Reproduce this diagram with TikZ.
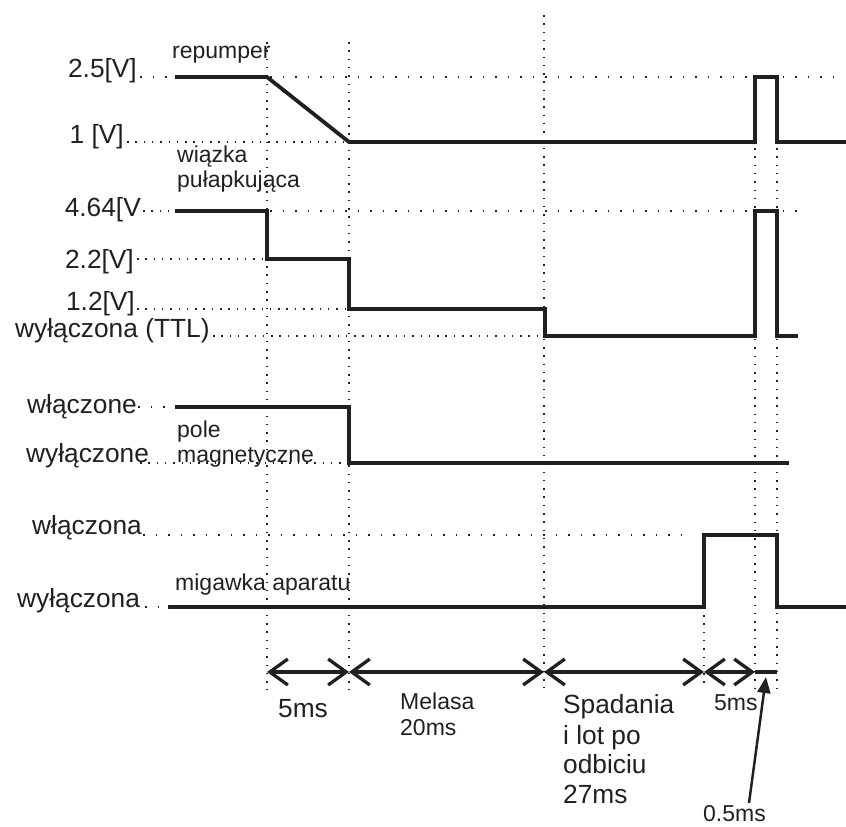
\documentclass[tikz,border=0pt]{standalone}
\usepackage{fontspec}
\setmainfont{Liberation Sans}
\usetikzlibrary{arrows.meta}
\definecolor{ink}{HTML}{231F20}
\tikzset{
  sig/.style={line width=3.8pt, color=ink, line join=miter},
  dotS/.style={line width=1.5pt, color=ink, dash pattern=on 1.5pt off 6.8pt},
  dotW/.style={line width=1.5pt, color=ink, dash pattern=on 1.5pt off 11pt},
  dimline/.style={line width=3.3pt, color=ink},
  barbs/.style={{Straight Barb[length=18pt,width=26pt]}-{Straight Barb[length=18pt,width=26pt]}},
  big/.style={font=\fontsize{26.3}{30}\selectfont, text=ink, inner sep=0pt},
  small/.style={font=\fontsize{23}{26}\selectfont, text=ink, inner sep=0pt},
}
\begin{document}
\begin{tikzpicture}[x=1pt,y=-1pt]
\useasboundingbox (0,0) rectangle (846,827);
% vertical dotted guides
\draw[dotS] (267,42) -- (267,690);
\draw[dotS] (349,42) -- (349,690);
\draw[dotS] (544,15) -- (544,688);
\draw[dotS] (755,148) -- (755,690);
\draw[dotS] (777,148) -- (777,690);
\draw[dotS] (704,615) -- (704,685);
% horizontal dotted guides
\draw[dotW] (140,77) -- (175,77);
\draw[dotW] (270,77) -- (838,77);
\draw[dotS] (127,142) -- (349,142);
\draw[dotS] (143,211) -- (175,211);
\draw[dotW] (270,211) -- (798,211);
\draw[dotS] (137,259) -- (267,259);
\draw[dotS] (137,309) -- (349,309);
\draw[dotS] (213,336) -- (583,336);
\draw[dotW] (138,407) -- (175,407);
\draw[dotS] (140,463) -- (349,463);
\draw[dotW] (143,535) -- (692,535);
\draw[dotW] (145,607) -- (168,607);
% signals
\draw[sig] (175,77) -- (267,77) -- (349,142) -- (755,142) -- (755,77) -- (777,77) -- (777,142) -- (846,142);
\draw[sig] (175,211) -- (267,211) -- (267,259) -- (349,259) -- (349,309) -- (545,309) -- (545,336) -- (755,336) -- (755,211) -- (777,211) -- (777,336) -- (798,336);
\draw[sig] (175,407) -- (349,407) -- (349,463) -- (789,463);
\draw[sig] (168,607) -- (704,607) -- (704,535) -- (777,535) -- (777,607) -- (846,607);
% level labels
\node[big, anchor=base east] (l25) at (137,77) {2.5[V]};
\node[big, anchor=base east] (l1) at (124,143) {1 [V]};
\node[big, anchor=base east] (l464) at (141,216) {4.64[V};
\node[big, anchor=base east] (l22) at (134,268) {2.2[V]};
\node[big, anchor=base east] (l12) at (135,310) {1.2[V]};
\node[big, anchor=base west] (lttl) at (15,337) {wyłączona (TTL)};
\node[big, anchor=base west] (lon1) at (27,413) {włączone};
\node[big, anchor=base west] (loff1) at (26,462) {wyłączone};
\node[big, anchor=base west] (lon2) at (32,534) {włączona};
\node[big, anchor=base west] (loff2) at (17,607) {wyłączona};
% signal names
\node[small, anchor=base west] (nrep) at (172,58) {repumper};
\node[small, anchor=base west] (nwia) at (177,162) {wiązka};
\node[small, anchor=base west] (nwia2) at (177,187) {pułapkująca};
\node[small, anchor=base west] (npole) at (177,437) {pole};
\node[small, anchor=base west] (npole2) at (177,462) {magnetyczne};
\node[small, anchor=base west] (nmig) at (175,590) {migawka aparatu};
% time intervals
\coordinate (t0) at (267,672);
\coordinate (t1) at (349,672);
\coordinate (t2) at (544,672);
\coordinate (t3) at (704,672);
\coordinate (t4) at (755,672);
\coordinate (t5) at (777,672);
\draw[dimline, barbs] (t0) -- (t1);
\draw[dimline, barbs] (t1) -- (t2);
\draw[dimline, barbs] (t2) -- (t3);
\draw[dimline, barbs] (t3) -- (t4);
\draw[dimline] (t4) -- (t5);
\node[big, anchor=base west] (d5) at (278,717) {5ms};
\node[small, anchor=base west] (dmel) at (400,709) {Melasa};
\node[small, anchor=base west] (dmel2) at (400,735) {20ms};
\node[big, anchor=base west] (dsp1) at (563,713) {Spadania};
\node[big, anchor=base west] (dsp2) at (563,744) {i lot po};
\node[big, anchor=base west] (dsp3) at (563,773) {odbiciu};
\node[big, anchor=base west] (dsp4) at (563,803) {27ms};
\node[small, anchor=base west] (d5b) at (714,710) {5ms};
\node[small, anchor=base west] (d05) at (703,821) {0.5ms};
\coordinate (ptip) at (766,677);
\draw[line width=2.5pt, color=ink, -{Triangle[length=16pt,width=13pt]}] (749,803) -- (ptip);
\end{tikzpicture}
\end{document}
